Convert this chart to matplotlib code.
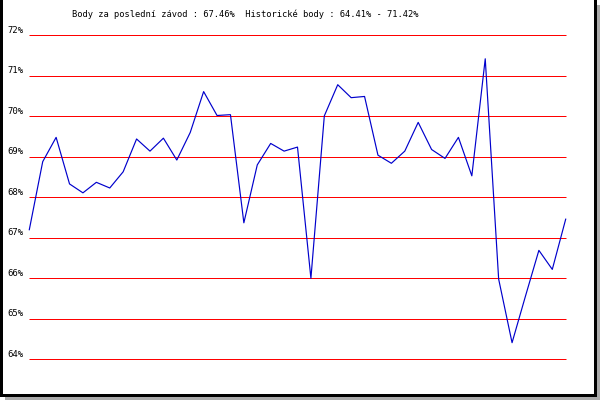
import matplotlib
matplotlib.use("Agg")
import matplotlib.pyplot as plt
from matplotlib.patches import Rectangle
from matplotlib.transforms import blended_transform_factory, offset_copy

# body z jednotlivych zavodu (%)
values = [67.2, 68.88, 69.48, 68.33, 68.11, 68.37, 68.23, 68.63, 69.44, 69.14,
          69.46, 68.92, 69.6, 70.61, 70.02, 70.04, 67.37, 68.8, 69.33, 69.14,
          69.24, 66.0, 70.01, 70.78, 70.46, 70.49, 69.04, 68.84, 69.14, 69.85,
          69.18, 68.96, 69.48, 68.53, 71.42, 65.98, 64.41, 65.56, 66.69, 66.22,
          67.46]
levels = [64, 65, 66, 67, 68, 69, 70, 71, 72]
title = "Body za poslední závod : 67.46%  Historické body : 64.41% - 71.42%"

W, H = 600, 400
fig = plt.figure(figsize=(6, 4), dpi=100, facecolor="white")

# stin a ramecek
fig.add_artist(Rectangle((5 / W, 0), 1, 395.3 / H, transform=fig.transFigure,
                         facecolor="#aaaaaa", edgecolor="none", zorder=0))
fig.add_artist(Rectangle((1 / W, 5.5 / H), 593.5 / W, 1.0, transform=fig.transFigure,
                         facecolor="white", edgecolor="black", linewidth=2.16, zorder=1))

ax = fig.add_axes([29.3 / W, 40.7 / H, 536.4 / W, 324 / H])
ax.set_zorder(5)
ax.set_xlim(0, len(values) - 1)
ax.set_ylim(64, 72)
ax.axis("off")
ax.patch.set_alpha(0)

ax.hlines(levels, 0, len(values) - 1, colors="#ff0000", linewidth=0.72,
          snap=True, clip_on=False, zorder=2)
ax.plot(range(len(values)), values, color="#0000cc", linewidth=0.85, zorder=3,
        clip_on=False)

trans = blended_transform_factory(fig.transFigure, ax.transData)
trans = offset_copy(trans, fig=fig, y=2.5, units="dots")
for lv in levels:
    ax.text(7.3 / W, lv, f"{lv}%", transform=trans, ha="left", va="baseline",
            fontsize=6.4, family="DejaVu Sans Mono", color="black")

fig.text(71.7 / W, (H - 17) / H, title, ha="left", va="baseline",
         fontsize=6.3, family="DejaVu Sans Mono", color="black", zorder=6)

fig.savefig("out.png", dpi=100, facecolor="white")
